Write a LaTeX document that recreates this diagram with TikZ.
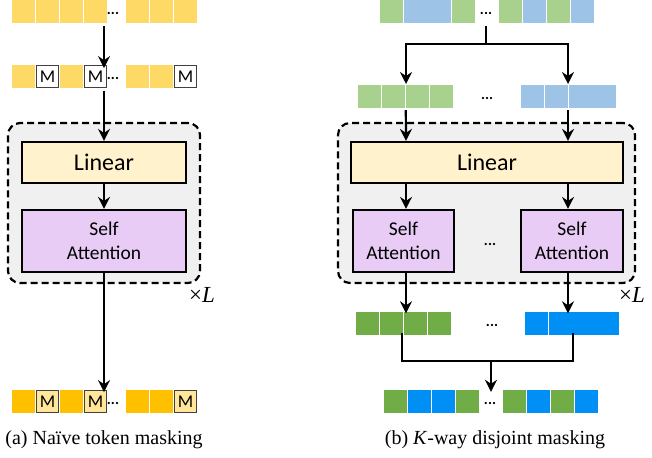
\documentclass[tikz,border=0pt]{standalone}
\usepackage{fontspec}
\setmainfont{Liberation Serif}
\newfontfamily\calibri{Carlito}
\usetikzlibrary{arrows.meta}
\definecolor{tokY}{HTML}{FFD966}
\definecolor{tokO}{HTML}{FFC000}
\definecolor{tokM}{HTML}{FFE699}
\definecolor{tokG}{HTML}{A9D18E}
\definecolor{tokB}{HTML}{9DC3E6}
\definecolor{outG}{HTML}{70AD47}
\definecolor{outB}{HTML}{008FF5}
\definecolor{linfill}{HTML}{FFF2CC}
\definecolor{attfill}{HTML}{E8CCF5}
\definecolor{grpfill}{HTML}{F0F0F0}
\tikzstyle{cell} = [rectangle, minimum width=23pt, minimum height=23pt, inner sep=0pt, draw=none]
\tikzstyle{wcell} = [cell, minimum width=47pt]
\tikzstyle{mask} = [rectangle, minimum width=21.5pt, minimum height=21.5pt, inner sep=0pt, draw=black!75, line width=1.2pt, font=\calibri\fontsize{18}{18}\selectfont]
\tikzstyle{dots} = [font=\calibri\bfseries\fontsize{15}{15}\selectfont]
\tikzstyle{group} = [rectangle, rounded corners=12pt, draw=black, dash pattern=on 7pt off 4pt, line width=2.2pt, fill=grpfill]
\tikzstyle{linear} = [rectangle, draw=black, line width=2.2pt, fill=linfill, minimum height=41pt, text centered, font=\calibri\fontsize{24}{24}\selectfont]
\tikzstyle{attn} = [rectangle, draw=black, line width=2.2pt, fill=attfill, minimum height=62pt, text centered, align=center, font=\calibri\fontsize{19.5}{24}\selectfont]
\tikzstyle{line} = [line width=2.2pt]
\tikzstyle{arrow} = [line width=2.2pt,->,>={Stealth[length=12pt,width=12pt,inset=4pt]}]
\begin{document}
\begin{tikzpicture}[x=1pt,y=-1pt]
\useasboundingbox (0,0) rectangle (652,457);
% (a) naive token masking
\node[cell, fill=tokY] (a1) at (23.5,11.5) {};
\node[cell, fill=tokY] (a2) at (47.5,11.5) {};
\node[cell, fill=tokY] (a3) at (71.5,11.5) {};
\node[cell, fill=tokY] (a4) at (95.5,11.5) {};
\node[dots] (adots) at (113,13) {...};
\node[cell, fill=tokY] (a5) at (137.5,11.5) {};
\node[cell, fill=tokY] (a6) at (161.5,11.5) {};
\node[cell, fill=tokY] (a7) at (185.5,11.5) {};

\node[cell, fill=tokY] (b1) at (23.5,76.5) {};
\node[mask, fill=white] (b2) at (47.5,76.5) {M};
\node[cell, fill=tokY] (b3) at (71.5,76.5) {};
\node[mask, fill=white] (b4) at (95.5,76.5) {M};
\node[dots] (bdots) at (113,78) {...};
\node[cell, fill=tokY] (b5) at (137.5,76.5) {};
\node[cell, fill=tokY] (b6) at (161.5,76.5) {};
\node[mask, fill=white] (b7) at (185.5,76.5) {M};

\node[group, minimum width=192pt, minimum height=160pt] (grpa) at (104,203) {};
\node[linear, minimum width=164pt] (lina) at (104,162.5) {Linear};
\node[attn, minimum width=164pt] (atta) at (104,241) {Self\\Attention};
\node[font=\fontsize{23}{23}\selectfont] (xla) at (202,295) {×\textit{L}};

\node[cell, fill=tokO] (c1) at (23.5,401.5) {};
\node[mask, fill=tokM] (c2) at (47.5,401.5) {M};
\node[cell, fill=tokO] (c3) at (71.5,401.5) {};
\node[mask, fill=tokM] (c4) at (95.5,401.5) {M};
\node[dots] (cdots) at (113,403) {...};
\node[cell, fill=tokO] (c5) at (137.5,401.5) {};
\node[cell, fill=tokO] (c6) at (161.5,401.5) {};
\node[mask, fill=tokM] (c7) at (185.5,401.5) {M};

\draw[arrow] (a4.south -| lina) ++(0,3) -- ([yshift=-3pt]b4.north -| lina);
\draw[arrow] (b4.south -| lina) ++(0,3) -- (lina.north);
\draw[arrow] (lina) -- (atta);
\draw[arrow] (atta) -- ([yshift=-2pt]c4.north -| atta);
\node[font=\fontsize{20}{20}\selectfont] (capa) at (104,440) {(a) Naïve token masking};

% (b) K-way disjoint masking
\node[cell, fill=tokG] (p1) at (391.5,11.5) {};
\node[wcell, fill=tokB] (p2) at (427.5,11.5) {};
\node[cell, fill=tokG] (p3) at (463.5,11.5) {};
\node[dots] (pdots) at (486,13) {...};
\node[cell, fill=tokG] (p4) at (510.5,11.5) {};
\node[cell, fill=tokB] (p5) at (534.5,11.5) {};
\node[cell, fill=tokG] (p6) at (558.5,11.5) {};
\node[cell, fill=tokB] (p7) at (582.5,11.5) {};

\node[cell, fill=tokG] (q1) at (369.5,96.5) {};
\node[cell, fill=tokG] (q2) at (393.5,96.5) {};
\node[cell, fill=tokG] (q3) at (417.5,96.5) {};
\node[cell, fill=tokG] (q4) at (441.5,96.5) {};
\node[dots] (qdots) at (487,98) {...};
\node[cell, fill=tokB] (q5) at (532.5,96.5) {};
\node[cell, fill=tokB] (q6) at (556.5,96.5) {};
\node[wcell, fill=tokB] (q7) at (592,96.5) {};

\node[group, minimum width=297pt, minimum height=160pt] (grpb) at (486.5,203) {};
\node[linear, minimum width=272pt] (linb) at (487,162.5) {Linear};
\node[attn, minimum width=101pt] (attb1) at (403.5,241) {Self\\Attention};
\node[dots] (attdots) at (490,244) {...};
\node[attn, minimum width=102pt] (attb2) at (572,241) {Self\\Attention};
\node[font=\fontsize{23}{23}\selectfont] (xlb) at (632,295) {×\textit{L}};

\node[cell, fill=outG] (r1) at (367.5,323) {};
\node[cell, fill=outG] (r2) at (391.5,323) {};
\node[cell, fill=outG] (r3) at (415.5,323) {};
\node[cell, fill=outG] (r4) at (439.5,323) {};
\node[dots] (rdots) at (492,325) {...};
\node[cell, fill=outB] (r5) at (536.5,323) {};
\node[wcell, fill=outB] (r6) at (572,323) {};
\node[cell, fill=outB] (r7) at (607.5,323) {};

\node[cell, fill=outG] (s1) at (395.5,401.5) {};
\node[cell, fill=outB] (s2) at (419.5,401.5) {};
\node[cell, fill=outB] (s3) at (443.5,401.5) {};
\node[cell, fill=outG] (s4) at (467.5,401.5) {};
\node[dots] (sdots) at (490,403) {...};
\node[cell, fill=outG] (s5) at (514.5,401.5) {};
\node[cell, fill=outB] (s6) at (538.5,401.5) {};
\node[cell, fill=outG] (s7) at (562.5,401.5) {};
\node[cell, fill=outB] (s8) at (586.5,401.5) {};

\coordinate (split) at (486,44);
\coordinate (inl) at (406,84);
\coordinate (inr) at (568,84);
\coordinate (merge) at (491,361);
\draw[line] (486,26) -- (split);
\draw[arrow] (split) -| (inl);
\draw[arrow] (split) -| (inr);
\draw[arrow] (q3.south west) ++(0,2) -- (linb.north -| inl);
\draw[arrow] (q7.south) ++(-24,2) -- (linb.north -| inr);
\draw[arrow] (linb.south -| inl) -- (attb1.north -| inl);
\draw[arrow] (linb.south -| inr) -- (attb2.north -| inr);
\draw[arrow] (attb1.south -| inl) -- ([yshift=-2pt]r3.north -| inl);
\draw[arrow] (attb2.south -| inr) -- ([yshift=-2pt]r6.north -| inr);
\draw[line] ([yshift=2pt]r3.south -| 402,0) |- (merge) -| ([yshift=2pt]r6.south -| 573,0);
\draw[arrow] (merge) -- ([yshift=-2pt]s4.north -| merge);
\node[font=\fontsize{20}{20}\selectfont] (capb) at (495,440) {(b) \textit{K}-way disjoint masking};
\end{tikzpicture}
\end{document}
